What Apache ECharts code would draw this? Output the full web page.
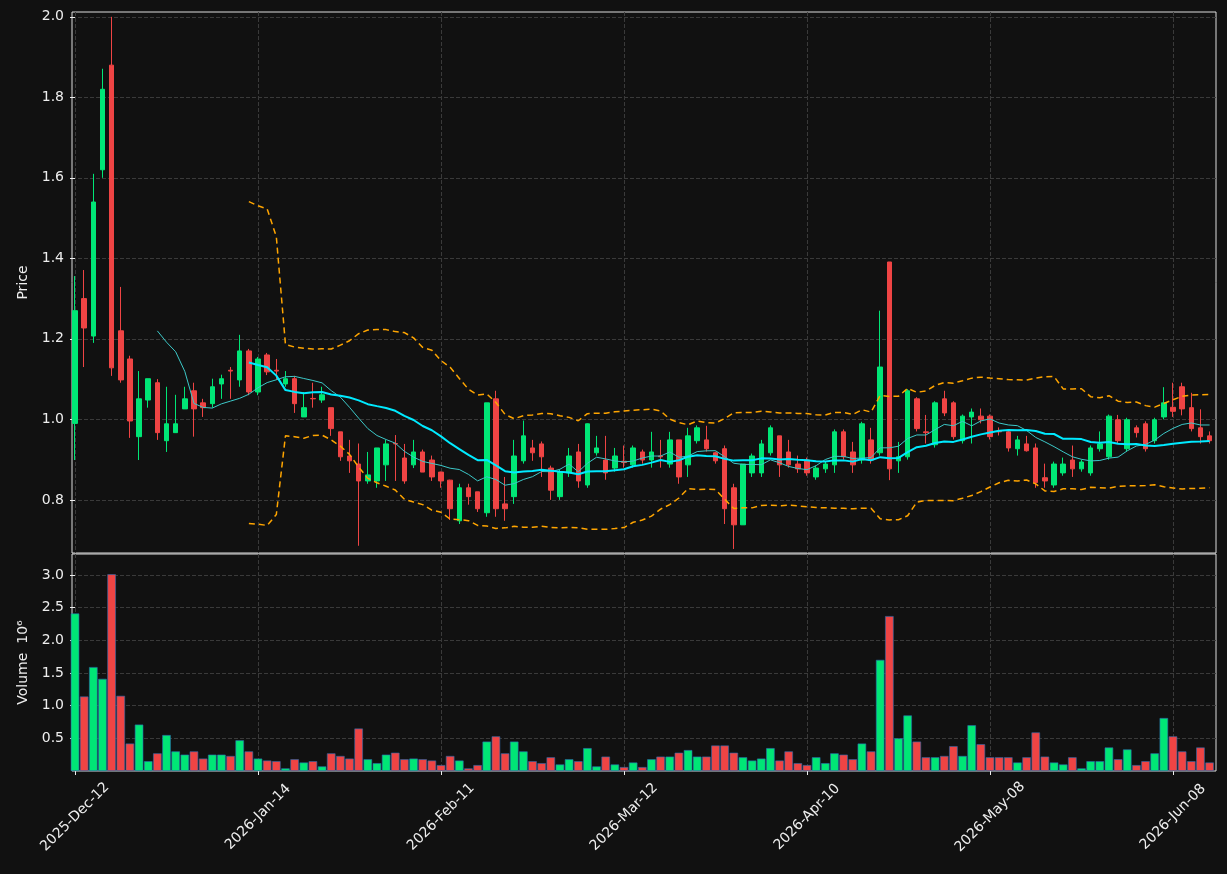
<!DOCTYPE html>
<html><head><meta charset="utf-8">
<script src="https://cdn.jsdelivr.net/npm/echarts@6/dist/echarts.min.js"></script>
<style>html,body{margin:0;background:#111;}#main{width:1227px;height:874px;}</style>
</head><body><div id="main"></div>
<script>
// open, close, low, high per trading day
var opens = [0.99,1.30,1.207,1.62,1.88,1.22,1.15,0.957,1.048,1.091,0.947,0.967,1.026,1.071,1.041,1.039,1.088,1.122,1.098,1.170,
  1.068,1.160,1.122,1.088,1.101,1.006,1.052,1.048,1.029,0.969,0.909,0.889,0.847,0.847,0.887,0.940,0.904,0.887,0.919,0.899,
  0.869,0.849,0.748,0.830,0.820,0.768,1.051,0.790,0.808,0.897,0.929,0.939,0.879,0.808,0.867,0.919,0.837,0.917,0.899,0.879,
  0.896,0.887,0.919,0.899,0.909,0.889,0.949,0.887,0.947,0.949,0.917,0.927,0.830,0.738,0.867,0.867,0.917,0.959,0.919,0.889,
  0.899,0.857,0.877,0.887,0.969,0.919,0.899,0.949,0.917,1.391,0.897,0.907,1.051,0.969,0.937,1.051,1.041,0.947,1.006,1.008,
  1.008,0.970,0.969,0.927,0.939,0.929,0.855,0.837,0.867,0.899,0.877,0.867,0.927,0.907,0.999,0.927,0.979,0.989,0.947,1.006,
  1.030,1.081,1.029,0.979,0.959];
var closes = [1.27,1.227,1.54,1.82,1.128,1.098,0.996,1.051,1.101,0.967,0.989,0.989,1.051,1.026,1.029,1.081,1.101,1.120,1.170,1.068,
  1.150,1.118,1.120,1.101,1.039,1.029,1.051,1.061,0.977,0.907,0.897,0.847,0.862,0.929,0.939,0.939,0.847,0.919,0.869,0.857,
  0.847,0.778,0.830,0.808,0.778,1.041,0.778,0.778,0.909,0.959,0.917,0.907,0.824,0.869,0.909,0.847,0.989,0.929,0.867,0.909,
  0.893,0.929,0.899,0.919,0.907,0.949,0.857,0.959,0.979,0.927,0.897,0.778,0.738,0.889,0.909,0.939,0.979,0.887,0.887,0.877,
  0.867,0.879,0.889,0.969,0.907,0.887,0.989,0.899,1.130,0.877,0.907,1.071,0.977,0.967,1.041,1.016,0.957,1.008,1.018,0.999,
  0.957,0.969,0.929,0.949,0.922,0.843,0.847,0.889,0.889,0.877,0.894,0.929,0.939,1.008,0.947,0.999,0.967,0.927,0.999,1.041,
  1.020,1.026,0.977,0.957,0.947];
var lows = [0.899,1.130,1.190,1.600,1.108,1.091,0.954,0.899,1.029,0.949,0.919,0.967,1.026,0.957,1.006,1.029,1.051,1.051,1.081,1.060,
  1.060,1.110,1.098,1.081,1.016,1.006,1.029,1.041,0.959,0.897,0.867,0.686,0.840,0.830,0.847,0.847,0.840,0.879,0.869,0.847,
  0.830,0.750,0.740,0.788,0.770,0.758,0.758,0.748,0.790,0.890,0.897,0.857,0.800,0.800,0.857,0.830,0.830,0.910,0.850,0.870,
  0.880,0.880,0.890,0.880,0.880,0.880,0.840,0.857,0.940,0.920,0.890,0.740,0.678,0.738,0.857,0.857,0.910,0.857,0.880,0.867,
  0.860,0.850,0.867,0.867,0.900,0.867,0.890,0.890,0.910,0.849,0.867,0.900,0.970,0.940,0.930,1.008,0.950,0.940,0.940,0.990,
  0.950,0.960,0.920,0.910,0.920,0.830,0.830,0.830,0.860,0.857,0.870,0.860,0.920,0.900,0.940,0.920,0.955,0.920,0.940,1.000,
  1.006,1.010,0.970,0.940,0.940];
var highs = [1.356,1.371,1.610,1.871,2.000,1.329,1.158,1.120,1.101,1.100,1.081,1.061,1.081,1.091,1.051,1.101,1.111,1.130,1.210,1.175,
  1.155,1.165,1.150,1.120,1.108,1.068,1.091,1.081,1.029,0.969,0.949,0.940,0.919,0.929,0.949,0.961,0.939,0.949,0.925,0.910,
  0.870,0.850,0.840,0.840,0.820,1.041,1.071,0.857,0.949,0.997,0.949,0.945,0.885,0.875,0.929,0.939,0.990,0.959,0.959,0.929,
  0.935,0.935,0.925,0.969,0.949,0.969,0.949,0.979,0.985,0.984,0.920,0.935,0.840,0.889,0.915,0.949,0.985,0.959,0.949,0.910,
  0.905,0.885,0.895,0.975,0.975,0.944,0.994,0.979,1.270,1.391,0.944,1.075,1.055,1.011,1.045,1.071,1.045,1.012,1.027,1.027,
  1.012,0.980,0.975,0.959,0.959,0.940,0.890,0.895,0.905,0.935,0.900,0.935,0.970,1.012,1.011,1.004,0.985,0.995,1.004,1.080,
  1.091,1.091,1.066,1.025,0.970];
var volumes = [2.41,1.14,1.59,1.41,3.01,1.15,0.42,0.71,0.15,0.27,0.55,0.30,0.25,0.30,0.19,0.25,0.25,0.23,0.47,0.30,
  0.19,0.16,0.15,0.04,0.18,0.13,0.15,0.07,0.27,0.23,0.19,0.65,0.18,0.12,0.25,0.28,0.18,0.19,0.18,0.16,
  0.09,0.23,0.16,0.04,0.09,0.45,0.53,0.27,0.45,0.30,0.15,0.12,0.21,0.10,0.18,0.15,0.35,0.07,0.22,0.10,
  0.06,0.13,0.06,0.18,0.22,0.22,0.28,0.32,0.22,0.22,0.39,0.39,0.28,0.21,0.16,0.19,0.35,0.16,0.30,0.12,
  0.09,0.21,0.12,0.27,0.25,0.18,0.42,0.30,1.70,2.37,0.50,0.85,0.45,0.21,0.21,0.23,0.38,0.23,0.70,0.41,
  0.21,0.21,0.21,0.13,0.21,0.59,0.22,0.13,0.10,0.21,0.04,0.15,0.15,0.36,0.18,0.33,0.09,0.15,0.27,0.81,
  0.53,0.30,0.15,0.36,0.13];
var holidays = ['2025-12-25','2025-12-26','2026-01-01','2026-02-16','2026-04-03','2026-05-25'];
var monthNames = ['Jan','Feb','Mar','Apr','May','Jun','Jul','Aug','Sep','Oct','Nov','Dec'];
var xTickIdx = [0, 20, 40, 60, 80, 100, 120];
var priceTicks = [0.8, 1.0, 1.2, 1.4, 1.6, 1.8, 2.0];
var volTicks = [0.5, 1.0, 1.5, 2.0, 2.5, 3.0];

var dates = [];
var d = new Date(Date.UTC(2025, 11, 12));
while (dates.length < closes.length) {
  var iso = d.toISOString().slice(0, 10);
  var wd = d.getUTCDay();
  if (wd !== 0 && wd !== 6 && holidays.indexOf(iso) < 0) {
    dates.push(d.getUTCFullYear() + '-' + monthNames[d.getUTCMonth()] + '-' + iso.slice(8));
  }
  d.setUTCDate(d.getUTCDate() + 1);
}

function movingAvg(n) {
  return closes.map(function (c, i) {
    if (i < n - 1) return [i, null];
    var s = 0;
    for (var k = i - n + 1; k <= i; k++) s += closes[k];
    return [i, s / n];
  });
}
function band(n, sign) {
  return closes.map(function (c, i) {
    if (i < n - 1) return [i, null];
    var s = 0, q = 0;
    for (var k = i - n + 1; k <= i; k++) { s += closes[k]; }
    var m = s / n;
    for (var k = i - n + 1; k <= i; k++) { q += (closes[k] - m) * (closes[k] - m); }
    return [i, m + sign * 2 * Math.sqrt(q / n)];
  });
}

var UP = '#00e676', DOWN = '#ef4444';
var candles = closes.map(function (c, i) { return [i, opens[i], c, lows[i], highs[i]]; });
var volBars = volumes.map(function (v, i) {
  return { value: [i, v], itemStyle: { color: closes[i] >= opens[i] ? UP : DOWN } };
});

var chart = echarts.init(document.getElementById('main'));
var axisText = { color: '#eee', fontSize: 14, fontFamily: 'DejaVu Sans' };
var split = { show: true, lineStyle: { color: '#3a3a3a', type: 'dashed' } };
function xAx(idx, labels) {
  return {
    type: 'value', gridIndex: idx, min: -0.33, max: 124.7,
    axisLine: { show: false },
    axisTick: { show: labels, length: 4, customValues: xTickIdx, lineStyle: { color: '#eee' } },
    splitLine: split,
    axisLabel: labels ? Object.assign({
      rotate: 45, margin: 46, align: 'center', verticalAlign: 'middle', customValues: xTickIdx,
      formatter: function (v) { return dates[Math.round(v)] || ''; }
    }, axisText) : { show: false, customValues: xTickIdx }
  };
}
function yAx(idx, min, max, ticks, name) {
  return {
    gridIndex: idx, min: min, max: max,
    name: name, nameLocation: 'middle', nameGap: 42,
    nameTextStyle: { color: '#eee', fontSize: 14, fontFamily: 'DejaVu Sans' },
    axisLine: { show: false },
    axisTick: { show: true, customValues: ticks, lineStyle: { color: '#eee' } },
    splitLine: split,
    axisLabel: Object.assign({ customValues: ticks, formatter: function (v) { return v.toFixed(1); } }, axisText)
  };
}
chart.setOption({
  backgroundColor: '#111111',
  animation: false,
  grid: [
    { left: 72, right: 11, top: 12, height: 541, show: true, backgroundColor: '#111', borderColor: '#ddd', borderWidth: 1 },
    { left: 72, right: 11, top: 554, height: 217, show: true, backgroundColor: '#111', borderColor: '#ddd', borderWidth: 1 }
  ],
  xAxis: [xAx(0, false), xAx(1, true)],
  yAxis: [yAx(0, 0.668, 2.012, priceTicks, 'Price'), yAx(1, 0, 3.32, volTicks, 'Volume  10⁶')],
  series: [
    {
      type: 'candlestick', xAxisIndex: 0, yAxisIndex: 0, data: candles, barWidth: 5,
      itemStyle: { color: UP, color0: DOWN, borderColor: UP, borderColor0: DOWN, borderWidth: 1 }
    },
    { type: 'line', data: movingAvg(10), showSymbol: false, lineStyle: { color: '#3cc8c8', width: 1 } },
    { type: 'line', data: movingAvg(20), showSymbol: false, lineStyle: { color: '#00eaff', width: 2 } },
    { type: 'line', data: band(20, 1), showSymbol: false, lineStyle: { color: '#ffa500', width: 1.5, type: [6, 4] } },
    { type: 'line', data: band(20, -1), showSymbol: false, lineStyle: { color: '#ffa500', width: 1.5, type: [6, 4] } },
    {
      type: 'bar', xAxisIndex: 1, yAxisIndex: 1, data: volBars, barWidth: 8.5,
      itemStyle: { borderColor: '#2a6db0', borderWidth: 0.6 }
    }
  ]
});
</script>
</body></html>
